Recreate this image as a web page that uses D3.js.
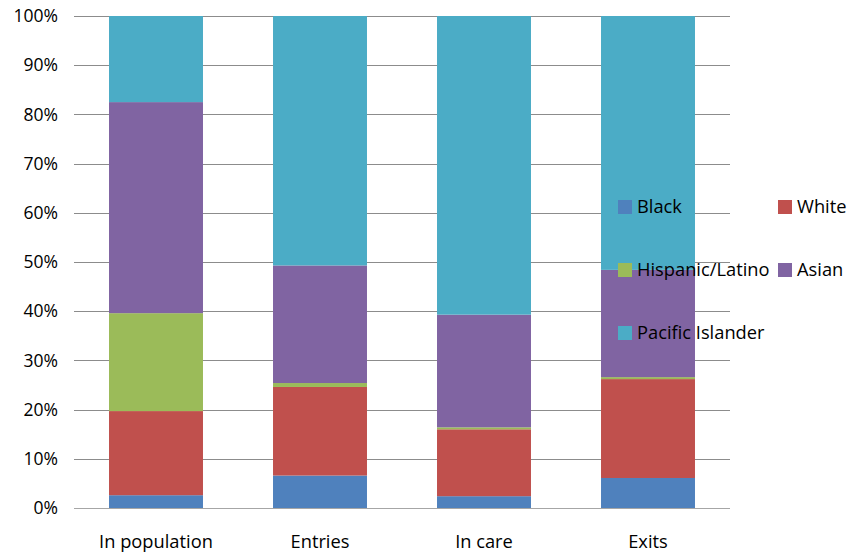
<!DOCTYPE html>
<html><head><meta charset="utf-8">
<script src="https://cdn.jsdelivr.net/npm/d3@7"></script>
<style>body{margin:0;background:#fff}svg{display:block}text{font-family:"Open Sans",sans-serif;fill:#000}</style>
</head><body><svg id="c" width="850" height="553"></svg>
<script>
const categories = ["In population","Entries","In care","Exits"];
const seriesNames = ["Black","White","Hispanic/Latino","Asian","Pacific Islander"];
const colors = ["#4F81BD","#C0504D","#9BBB59","#8064A2","#4BACC6"];
const black    = [2.6, 6.6, 2.4, 6.1];
const white    = [17.1, 18.0, 13.6, 20.1];
const hispanic = [19.9, 0.8, 0.4, 0.4];
const asian    = [42.9, 23.9, 22.9, 21.8];
const pacific  = [17.5, 50.7, 60.7, 51.6];
const yTicks = [0,10,20,30,40,50,60,70,80,90,100];

const rows = categories.map((c,i)=>({cat:c, "Black":black[i], "White":white[i], "Hispanic/Latino":hispanic[i], "Asian":asian[i], "Pacific Islander":pacific[i]}));
const stacked = d3.stack().keys(seriesNames)(rows);

const svg = d3.select("#c");
const x = d3.scaleBand().domain(categories).range([74,730]).paddingInner(0.427).paddingOuter(0.2135);
const y = d3.scaleLinear().domain([0,100]).range([508,16]);

// gridlines
svg.append("g").selectAll("line").data(yTicks).join("line")
  .attr("x1",74).attr("x2",730)
  .attr("y1",d=>Math.round(y(d))+0.5).attr("y2",d=>Math.round(y(d))+0.5)
  .attr("stroke",d=>d===0?"#a6a6a6":"#8c8c8c").attr("stroke-width",1);

// bars
svg.append("g").selectAll("g").data(stacked).join("g")
  .attr("fill",(d,i)=>colors[i])
  .selectAll("rect").data(d=>d).join("rect")
  .attr("x",d=>x(d.data.cat)).attr("width",x.bandwidth())
  .attr("y",d=>y(d[1])).attr("height",d=>y(d[0])-y(d[1]));

// y axis labels
svg.append("g").selectAll("text").data(yTicks).join("text")
  .attr("x",58).attr("y",d=>y(d)).attr("dy","0.35em").attr("text-anchor","end")
  .attr("font-size",17.5).text(d=>d+"%");

// x labels
svg.append("g").selectAll("text").data(categories).join("text")
  .attr("x",d=>x(d)+x.bandwidth()/2).attr("y",542).attr("dy","0.35em").attr("text-anchor","middle")
  .attr("font-size",18.3).text(d=>d);

// legend
const legPos = [[618,207],[778,207],[618,270],[778,270],[618,333]];
const lg = svg.append("g").selectAll("g").data(seriesNames).join("g")
  .attr("transform",(d,i)=>`translate(${legPos[i][0]},${legPos[i][1]})`);
lg.append("rect").attr("x",0).attr("y",-7).attr("width",14).attr("height",14).attr("fill",(d,i)=>colors[i]);
lg.append("text").attr("x",19).attr("y",0).attr("dy","0.35em").attr("font-size",18.3).text(d=>d);
</script></body></html>
